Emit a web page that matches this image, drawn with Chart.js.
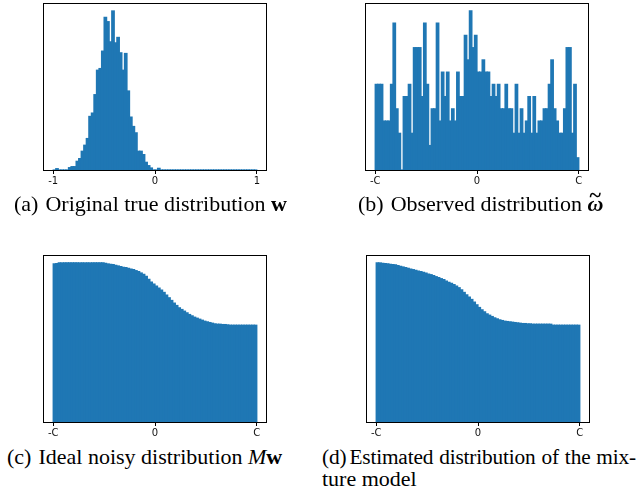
<!DOCTYPE html>
<html>
<head>
<meta charset="utf-8">
<script src="https://cdn.jsdelivr.net/npm/chart.js@4.4.0/dist/chart.umd.min.js"></script>
<style>
  body { margin: 0; background: #fff; width: 641px; height: 493px; position: relative; overflow: hidden; }
  canvas { position: absolute; }
  .cap { position: absolute; font-family: "Liberation Serif", "Times New Roman", serif; font-size: 22px; line-height: 22px; color: #000; white-space: nowrap; }
  .cap .lbl { margin-right: 7px; }
  .tw { position: relative; display: inline-block; }
  .tw .tl { position: absolute; left: 2px; top: -9px; font-weight: bold; font-style: normal; }
  .tight { font-size: 21.3px; letter-spacing: -0.15px; }
  .tight .lbl { margin-right: 3px; }
</style>
</head>
<body>
<canvas id="chartA" width="244" height="192" style="left:33px;top:0px"></canvas>
<canvas id="chartB" width="244" height="192" style="left:355px;top:0px"></canvas>
<canvas id="chartC" width="244" height="192" style="left:33px;top:252px"></canvas>
<canvas id="chartD" width="244" height="192" style="left:356px;top:252px"></canvas>

<div class="cap" style="left:14px;top:193px"><span class="lbl">(a)</span>Original true distribution <b>w</b></div>
<div class="cap" style="left:358px;top:193px"><span class="lbl">(b)</span>Observed distribution <span class="tw"><b><i>ω</i></b><span class="tl">~</span></span></div>
<div class="cap" style="left:7px;top:446px"><span class="lbl">(c)</span>Ideal noisy distribution <i>M</i><b>w</b></div>
<div class="cap tight" style="left:322px;top:446px;width:314px;text-align:justify;text-align-last:justify"><span class="lbl">(d)</span>Estimated distribution of the mix-</div>
<div class="cap" style="left:322px;top:468px">ture model</div>

<script>
// =====================================================================
// DATA (80 bins over [-1, 1] / [-C, C])
// =====================================================================
const binCount = 80;
const tickValues = [-1, 0, 1];
const tickLabelsA = ['-1', '0', '1'];
const tickLabelsC = ['-C', '0', 'C'];

const trueCounts = [
    0, 4, 0, 0, 0, 0, 7, 10, 10, 26,
    34, 56, 74, 94, 160, 170, 225, 298, 303, 355,
    456, 443, 383, 475, 380, 396, 350, 298, 348, 236,
    158, 130, 111, 56, 56, 46, 23, 13, 6, 0,
    0, 5, 0, 0, 0, 0, 0, 0, 0, 0,
    0, 0, 0, 0, 0, 0, 0, 0, 0, 0,
    0, 0, 0, 0, 0, 0, 0, 0, 0, 0,
    0, 0, 0, 0, 0, 0, 0, 0, 0, 0
];

const observedCounts = [
    7, 7, 7, 4, 4, 4, 7, 12, 5, 3,
    0, 6, 6, 7, 3, 10, 10, 10, 6, 12,
    7, 2, 5, 5, 12, 4, 8, 6, 8, 4,
    5, 4, 8, 6, 6, 11, 9, 13, 10, 11,
    8, 8, 9, 8, 8, 6, 7, 6, 7, 5,
    5, 7, 5, 5, 3, 7, 3, 5, 3, 4,
    6, 3, 6, 3, 4, 4, 5, 5, 7, 9,
    5, 4, 3, 3, 5, 10, 10, 3, 7, 1
];

const idealNoisy = [
    472, 473, 475, 475, 475, 475, 475, 475, 475, 475,
    475, 475, 475, 475, 475, 475, 475, 475, 475, 475,
    474, 472, 471, 470, 468, 466, 464, 462, 461, 459,
    457, 455, 452, 449, 445, 441, 435, 426, 418, 412,
    406, 400, 394, 387, 379, 371, 363, 355, 348, 341,
    336, 331, 326, 321, 317, 313, 310, 307, 304, 301,
    299, 297, 295, 293, 292, 292, 291, 291, 290, 289,
    289, 289, 289, 289, 289, 289, 289, 289, 289, 289
];

const estimatedMixture = [
    475, 475, 474, 473, 472, 471, 470, 469, 467, 465,
    463, 461, 459, 457, 455, 453, 451, 449, 447, 445,
    442, 440, 437, 434, 431, 428, 425, 421, 417, 414,
    410, 406, 401, 395, 387, 380, 373, 366, 358, 350,
    342, 335, 329, 323, 319, 315, 311, 308, 305, 303,
    301, 300, 299, 298, 297, 296, 295, 294, 294, 293,
    293, 292, 292, 292, 292, 292, 292, 292, 292, 289,
    289, 289, 289, 289, 289, 289, 289, 289, 289, 289
];

// bin centres of the histogram
const binCenters = Array.from({ length: binCount }, (_, i) => -1 + (i + 0.5) * (2 / binCount));

// draws the box around the plot area (matplotlib style spines)
const framePlugin = {
    id: 'frame',
    afterDatasetsDraw(chart) {
        const { ctx, chartArea: a } = chart;
        ctx.save();
        ctx.strokeStyle = '#000';
        ctx.lineWidth = 1;
        ctx.strokeRect(Math.round(a.left) + 0.5, Math.round(a.top) + 0.5,
            Math.round(a.right - a.left) - 1, Math.round(a.bottom - a.top));
        ctx.restore();
    }
};

function makeHist(id, values, labels) {
    const ctx = document.getElementById(id).getContext('2d');
    return new Chart(ctx, {
        type: 'bar',
        data: {
            datasets: [{
                data: values.map((v, i) => ({ x: binCenters[i], y: v })),
                backgroundColor: '#1f77b4',
                borderWidth: 0,
                inflateAmount: 0.6,
                categoryPercentage: 1,
                barPercentage: 1
            }]
        },
        options: {
            responsive: false,
            animation: false,
            devicePixelRatio: 1,
            layout: { padding: { left: 10, right: 10, top: 3, bottom: 0 } },
            plugins: { legend: { display: false }, tooltip: { enabled: false } },
            scales: {
                x: {
                    type: 'linear',
                    min: -1.1,
                    max: 1.1,
                    offset: false,
                    afterBuildTicks: scale => { scale.ticks = tickValues.map(v => ({ value: v })); },
                    afterFit: scale => { scale.height = 22; },
                    ticks: {
                        autoSkip: false,
                        maxRotation: 0,
                        padding: 1,
                        color: '#111',
                        font: { family: 'DejaVu Sans', size: 10 },
                        callback: (value, index) => labels[index]
                    },
                    grid: { display: true, offset: false, drawOnChartArea: false, drawTicks: true, tickLength: 4, color: '#000', lineWidth: 1 },
                    border: { display: false }
                },
                y: {
                    display: false,
                    min: 0,
                    max: Math.max(...values) * 1.05
                }
            }
        },
        plugins: [framePlugin]
    });
}

makeHist('chartA', trueCounts, tickLabelsA);
makeHist('chartB', observedCounts, tickLabelsC);
makeHist('chartC', idealNoisy, tickLabelsC);
makeHist('chartD', estimatedMixture, tickLabelsC);
</script>
</body>
</html>
